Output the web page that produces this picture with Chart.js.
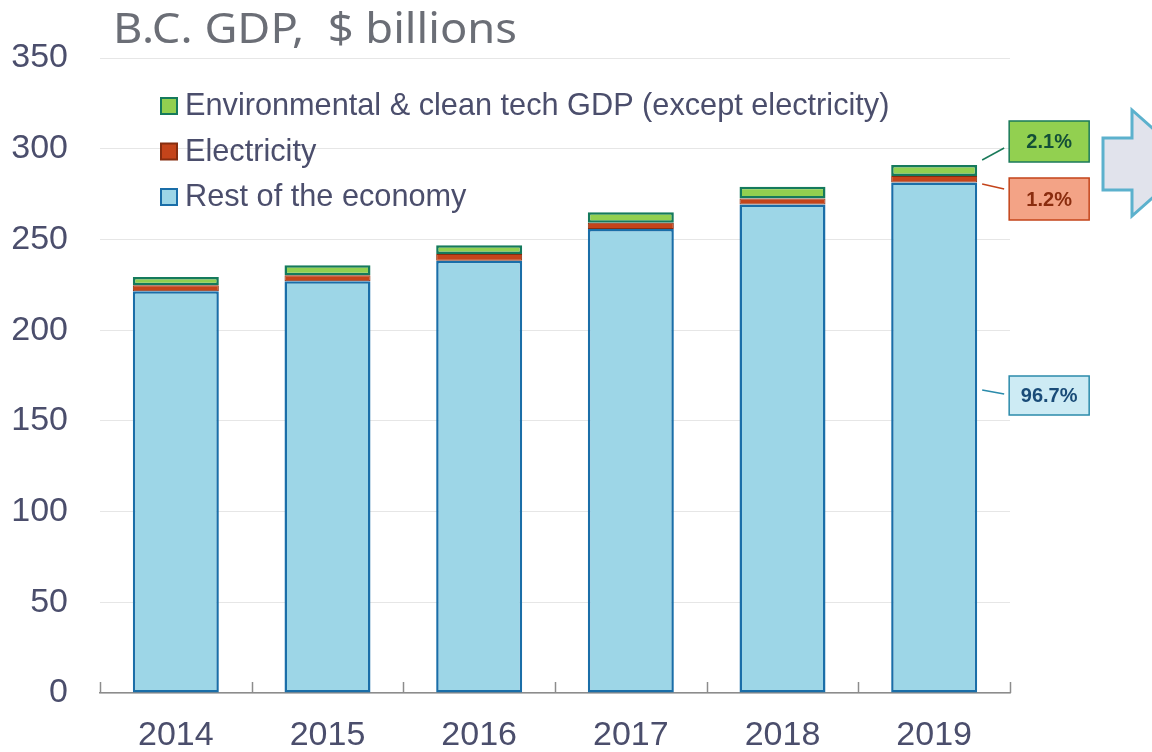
<!DOCTYPE html>
<html>
<head>
<meta charset="utf-8">
<script src="https://cdn.jsdelivr.net/npm/chart.js@4/dist/chart.umd.min.js"></script>
<style>
  html, body { margin: 0; padding: 0; background: #fff; }
  #wrap { width: 1152px; height: 752px; position: relative; }
</style>
</head>
<body>
<div id="wrap"><canvas id="gdpChart"></canvas></div>
<script>
// data, $ billions
var years = ['2014', '2015', '2016', '2017', '2018', '2019'];
var restOfEconomy = [221.4, 227.0, 238.2, 255.7, 269.3, 281.4];
var electricity = [3.3, 3.3, 3.7, 3.5, 3.3, 3.5];
var envCleanTech = [4.6, 5.5, 4.9, 5.8, 6.4, 6.1];
var yTicks = [0, 50, 100, 150, 200, 250, 300, 350];

var seriesNames = ['Rest of the economy', 'Electricity', 'Environmental & clean tech GDP (except electricity)'];
var fills = ['#9dd6e7', '#c4441a', '#92d050'];
var borders = ['#1a6ea8', '#862d0f', '#157a5c'];

var textColor = '#4b4e6c';
var tickFont = { family: 'Liberation Sans, Arial, sans-serif', size: 34 };

// title, legend, inner tick marks, share callouts and the arrow
var extras = {
    id: 'extras',
    afterDraw: function (chart) {
        var ctx = chart.ctx;
        var xs = chart.scales.x;
        var area = chart.chartArea;
        ctx.save();

        // title, stretched to the width it has in the original
        var title = 'B.C. GDP,  $ billions';
        ctx.fillStyle = '#6b6e76';
        ctx.font = '41px "Noto Sans", Lato, sans-serif';
        ctx.textBaseline = 'alphabetic';
        ctx.textAlign = 'left';
        var tw = ctx.measureText(title).width;
        ctx.save();
        ctx.translate(113, 43);
        ctx.scale(404 / tw, 1);
        ctx.fillText(title, 0, 0);
        ctx.restore();

        // small upward tick marks on the category axis
        ctx.strokeStyle = '#8c8c8c';
        ctx.lineWidth = 1.5;
        var half = (xs.getPixelForValue(1) - xs.getPixelForValue(0)) / 2;
        for (var i = 0; i <= years.length; i++) {
            var tx = Math.round(xs.getPixelForValue(0) - half + i * 2 * half) + 0.5;
            ctx.beginPath();
            ctx.moveTo(tx, area.bottom);
            ctx.lineTo(tx, area.bottom - 11);
            ctx.stroke();
        }

        // legend (top series first)
        ctx.font = '30.7px "Liberation Sans", Arial, sans-serif';
        ctx.textBaseline = 'middle';
        for (var k = 0; k < 3; k++) {
            var s = 2 - k;
            var ly = 106 + k * 45.5;
            ctx.fillStyle = fills[s];
            ctx.fillRect(161, ly - 8, 16, 16);
            ctx.strokeStyle = borders[s];
            ctx.lineWidth = 2;
            ctx.strokeRect(161, ly - 8, 16, 16);
            ctx.fillStyle = textColor;
            ctx.fillText(seriesNames[s], 185, ly + 1);
        }

        // share callouts for the last year
        var last = years.length - 1;
        var total = restOfEconomy[last] + electricity[last] + envCleanTech[last];
        var shares = [restOfEconomy[last], electricity[last], envCleanTech[last]].map(function (v) {
            return (v / total * 100).toFixed(1) + '%';
        });
        var barEl = chart.getDatasetMeta(2).data[last];
        var right = barEl.x + barEl.width / 2;
        var boxes = [
            { s: 2, y: 121, h: 41, fill: '#92d050', stroke: '#1a7a5a', text: '#134f37', ly0: 160, ly1: 148 },
            { s: 1, y: 178, h: 42, fill: '#f3a386', stroke: '#c4441a', text: '#8a2c0e', ly0: 184, ly1: 189 },
            { s: 0, y: 376, h: 39, fill: '#cdebf4', stroke: '#2b8bab', text: '#1a4c78', ly0: 390, ly1: 394 }
        ];
        boxes.forEach(function (b) {
            ctx.strokeStyle = b.stroke;
            ctx.lineWidth = 1.5;
            ctx.beginPath();
            ctx.moveTo(right + 5, b.ly0);
            ctx.lineTo(right + 27, b.ly1);
            ctx.stroke();
            ctx.fillStyle = b.fill;
            ctx.fillRect(right + 32, b.y, 80, b.h);
            ctx.strokeRect(right + 32, b.y, 80, b.h);
            ctx.fillStyle = b.text;
            ctx.font = 'bold 20px "Liberation Sans", Arial, sans-serif';
            ctx.textAlign = 'center';
            ctx.textBaseline = 'middle';
            ctx.fillText(shares[b.s], right + 32 + 40, b.y + b.h / 2 + 1);
        });

        // block arrow on the right edge
        ctx.beginPath();
        ctx.moveTo(1103, 138);
        ctx.lineTo(1132, 138);
        ctx.lineTo(1132, 110);
        ctx.lineTo(1192, 163);
        ctx.lineTo(1132, 216);
        ctx.lineTo(1132, 190);
        ctx.lineTo(1103, 190);
        ctx.closePath();
        ctx.fillStyle = '#e1e3ec';
        ctx.fill();
        ctx.strokeStyle = '#5cb1cd';
        ctx.lineWidth = 3;
        ctx.stroke();

        ctx.restore();
    }
};

var datasets = [restOfEconomy, electricity, envCleanTech].map(function (vals, i) {
    return {
        label: seriesNames[i],
        data: vals,
        backgroundColor: fills[i],
        borderColor: borders[i],
        borderWidth: i === 1 ? 1 : 2.5,
        borderSkipped: false,
        categoryPercentage: 0.567,
        barPercentage: 1
    };
});

new Chart(document.getElementById('gdpChart'), {
    type: 'bar',
    data: { labels: years, datasets: datasets },
    options: {
        responsive: true,
        maintainAspectRatio: false,
        animation: false,
        layout: { padding: { top: 58, right: 142, left: 0, bottom: 0 } },
        plugins: {
            legend: { display: false },
            title: { display: false },
            tooltip: { enabled: false }
        },
        scales: {
            x: {
                stacked: true,
                grid: { display: false, drawTicks: false },
                border: { display: true, color: '#8c8c8c', width: 1.5 },
                ticks: { color: textColor, font: tickFont, padding: 22 },
                afterFit: function (s) { s.height = 59; }
            },
            y: {
                stacked: true,
                min: 0,
                max: 350,
                afterBuildTicks: function (s) {
                    s.ticks = yTicks.map(function (v) { return { value: v }; });
                },
                grid: { color: '#e6e6e6', lineWidth: 1, drawTicks: false },
                border: { display: false },
                ticks: { color: textColor, font: tickFont, padding: 32 },
                afterFit: function (s) { s.width = 100; }
            }
        }
    },
    plugins: [extras]
});
</script>
</body>
</html>
